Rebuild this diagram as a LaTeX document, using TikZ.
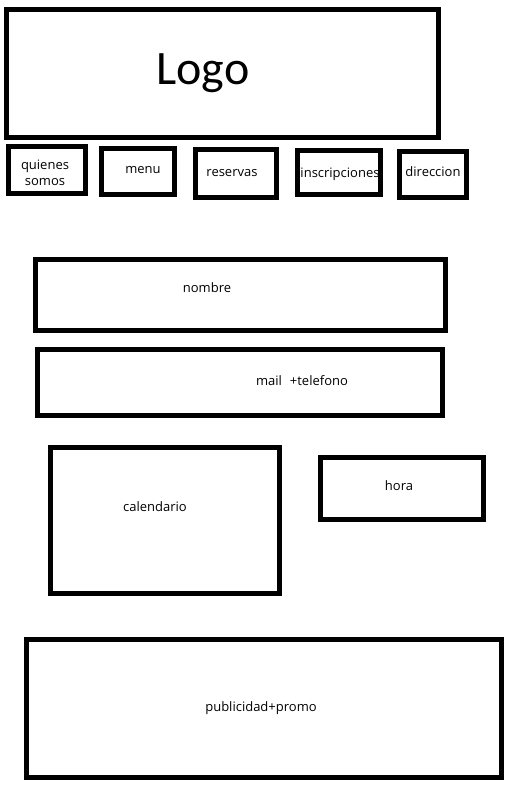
\documentclass[tikz,border=0pt]{standalone}
\usepackage{fontspec}
\setmainfont{Open Sans}
\newfontfamily\logofont{Carlito}
\usepackage{tikz}
\usetikzlibrary{positioning}

\tikzset{box/.style={line width=2.5pt},
         lbl/.style={inner sep=0pt,font=\fontsize{6.5pt}{8pt}\selectfont}}

\begin{document}
\begin{tikzpicture}[x=0.5pt,y=-0.5pt]
\useasboundingbox (0,0) rectangle (520,792);

\node[inner sep=0pt,anchor=base,font=\logofont\fontsize{24pt}{28pt}\selectfont] (logo) at (203,85) {Logo};
\draw[box] (6.5,9.5) rectangle (438.5,137.5);

\node[lbl,align=center] (quienes) at (45,173) {quienes\\somos};
\node[lbl] (menu) at (143,170) {menu};
\node[lbl] (reservas) at (232,173) {reservas};
\node[lbl] (inscripciones) at (340,174) {inscripciones};
\node[lbl] (direccion) at (433,172) {direccion};
\draw[box] (8.5,146.5) rectangle (85.5,193.5);
\draw[box] (101.5,148.5) rectangle (174.5,194.5);
\draw[box] (195.5,149.5) rectangle (276.5,197.5);
\draw[box] (297.5,150.5) rectangle (380.5,194.5);
\draw[box] (399.5,151.5) rectangle (466.5,197.5);

\node[lbl] (nombre) at (207,288) {nombre};
\draw[box] (35.5,259.5) rectangle (445.5,330.5);
\node[lbl] (mail) at (302,381) {mail\hspace{4pt}+telefono};
\draw[box] (37.5,349.5) rectangle (442.5,415.5);

\node[lbl] (calendario) at (155,507) {calendario};
\draw[box] (50.5,447.5) rectangle (279.5,593.5);
\node[lbl] (hora) at (399,486) {hora};
\draw[box] (320.5,457.5) rectangle (483.5,519.5);

\node[lbl] (publicidad) at (261,708) {publicidad+promo};
\draw[box] (26.5,639.5) rectangle (501.5,777.5);
\end{tikzpicture}
\end{document}
